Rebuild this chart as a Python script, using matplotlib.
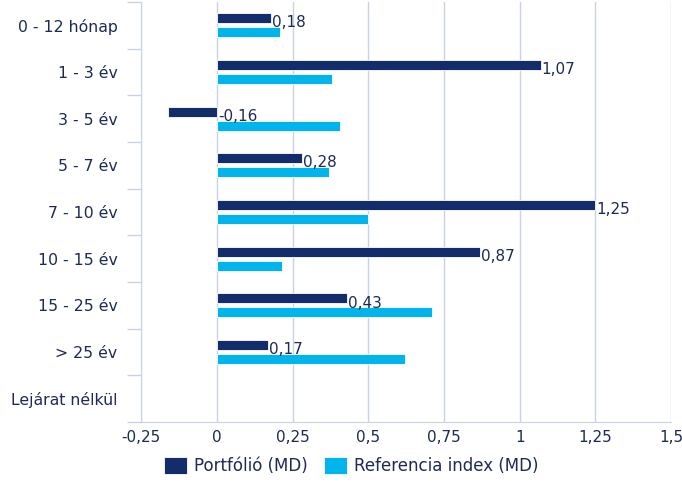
import numpy as np
import matplotlib.pyplot as plt
from matplotlib.ticker import FuncFormatter

categories = ['0 - 12 hónap', '1 - 3 év', '3 - 5 év', '5 - 7 év', '7 - 10 év',
              '10 - 15 év', '15 - 25 év', '> 25 év', 'Lejárat nélkül']
portfolio = [0.18, 1.07, -0.16, 0.28, 1.25, 0.87, 0.43, 0.17, np.nan]
reference = [0.21, 0.38, 0.405, 0.37, 0.50, 0.215, 0.71, 0.62, np.nan]
xticks = [-0.25, 0, 0.25, 0.5, 0.75, 1, 1.25, 1.5]

navy = '#132c6b'
cyan = '#00b5ec'
grid = '#c8d2e4'
txt = '#1c2a55'

plt.rcParams['font.family'] = 'DejaVu Sans'
fig = plt.figure(figsize=(6.82, 4.84), dpi=100)
ax = fig.add_axes([0.207, 0.128, 0.777, 0.868])

y = np.arange(len(categories))
h = 0.215
off = 0.15
ax.barh(y - off, portfolio, height=h, color=navy, edgecolor='white', linewidth=0.6,
        label='Portfólió (MD)', zorder=3)
ax.barh(y + off, reference, height=h, color=cyan, edgecolor='white', linewidth=0.6,
        label='Referencia index (MD)', zorder=3)

for yi, v in zip(y, portfolio):
    if np.isnan(v):
        continue
    ax.text(max(v, 0) + 0.003, yi - 0.05, f'{v:.2f}'.replace('.', ','),
            va='center', ha='left', fontsize=11, color=txt, zorder=4)

ax.set_xlim(-0.25, 1.5)
ax.set_xticks(xticks)
ax.xaxis.set_major_formatter(FuncFormatter(lambda v, p: f'{v:g}'.replace('.', ',')))
ax.grid(axis='x', color=grid, linewidth=1, zorder=0)
ax.tick_params(axis='x', length=0, pad=6, labelsize=11, labelcolor=txt)

ax.set_ylim(len(categories) - 0.5, -0.5)
ax.set_yticks(y)
ax.set_yticklabels(categories)
ax.set_yticks(np.arange(len(categories) + 1) - 0.5, minor=True)
ax.tick_params(axis='y', which='major', length=0, pad=17, labelsize=11.3, labelcolor=txt)
ax.tick_params(axis='y', which='minor', length=10, color=grid, width=1)

for s in ['top', 'right']:
    ax.spines[s].set_visible(False)
for s in ['left', 'bottom']:
    ax.spines[s].set_color(grid)

fig.legend(loc='center', bbox_to_anchor=(0.515, 0.037), ncol=2, frameon=False,
           fontsize=12, labelcolor=txt, handlelength=1.4, handleheight=1.2,
           handletextpad=0.42, columnspacing=0.95)

fig.savefig('out.png', dpi=100)
